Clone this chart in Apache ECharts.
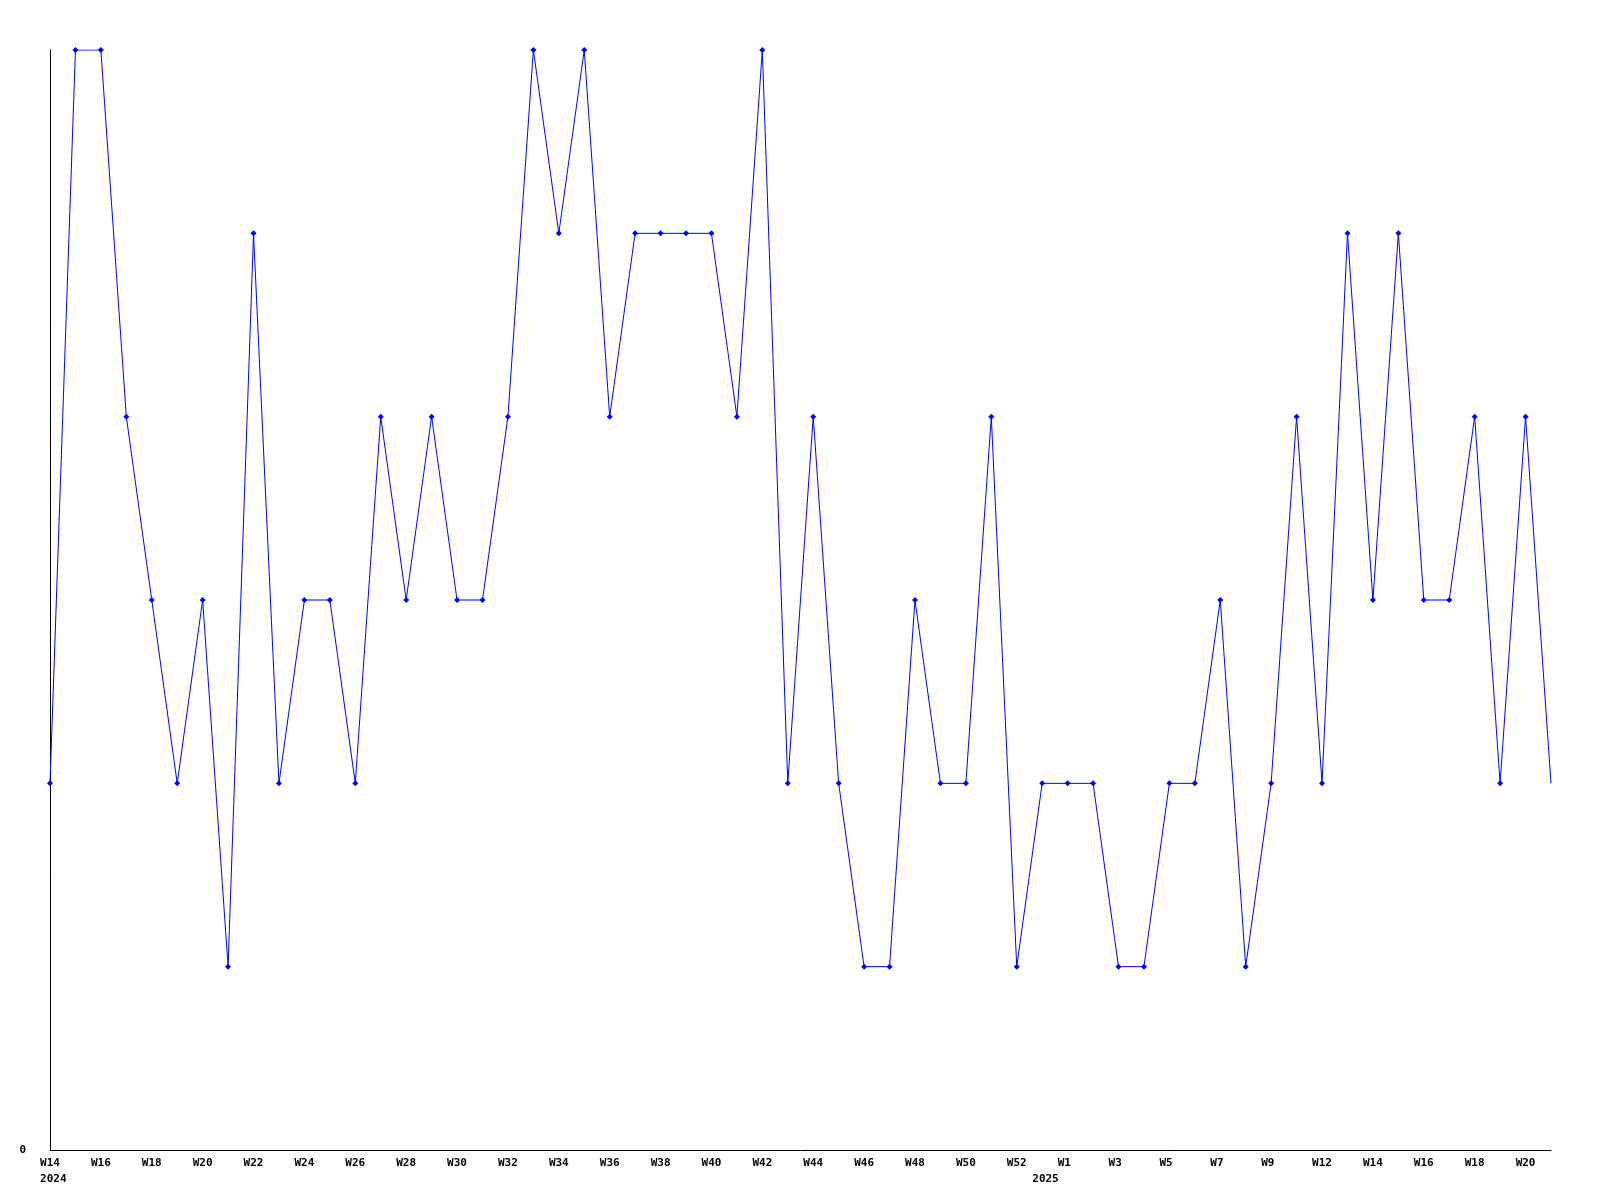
<!DOCTYPE html>
<html>
<head>
<meta charset="utf-8">
<script src="https://cdn.jsdelivr.net/npm/echarts@6/dist/echarts.min.js"></script>
<style>html,body{margin:0;padding:0;background:#fff}#c{width:1600px;height:1200px}</style>
</head>
<body>
<div id="c"></div>
<script>
const weeks = ['W14','W15','W16','W17','W18','W19','W20','W21','W22','W23','W24','W25','W26','W27','W28','W29','W30','W31','W32','W33','W34','W35','W36','W37','W38','W39','W40','W41','W42','W43','W44','W45','W46','W47','W48','W49','W50','W51','W52','W53',
  'W1','W2','W3','W4','W5','W6','W7','W8','W9','W10','W12','W13','W14','W15','W16','W17','W18','W19','W20','W21'];
const values = [2,6,6,4,3,2,3,1,5,2,3,3,2,4,3,4,3,3,4,6,5,6,4,5,5,5,5,4,6,2,4,2,1,1,3,2,2,4,1,2,
  2,2,1,1,2,2,3,1,2,4,2,5,3,5,3,3,4,2,4,2];
const yearStarts = [[0,'2024'],[39,'2025']];
const yTickLabels = ['0'];

const yearAt = {};
yearStarts.forEach(([i, y]) => { yearAt[i] = ' ' + y; });

const data = values.map((v, i) => i === values.length - 1 ? { value: v, symbol: 'none' } : v);

function pad3(s) { while (s.length < 3) s += ' '; return s; }

const chart = echarts.init(document.getElementById('c'));
chart.setOption({
  animation: false,
  backgroundColor: '#ffffff',
  grid: { left: 50, right: 49, top: 50, bottom: 50, containLabel: false },
  xAxis: {
    type: 'category',
    data: weeks,
    boundaryGap: false,
    axisLine: { show: true, lineStyle: { color: '#000', width: 1 } },
    axisTick: { show: false },
    splitLine: { show: false },
    axisLabel: {
      interval: 0,
      margin: 5,
      color: '#000',
      fontFamily: 'DejaVu Sans Mono',
      fontWeight: 'bold',
      fontSize: 11,
      lineHeight: 16,
      formatter: function (val, idx) {
        const w = idx % 2 === 0 ? pad3(val) : ' ';
        if (yearAt[idx] !== undefined) return w + '\n' + yearAt[idx];
        return idx % 2 === 0 ? pad3(val) : '';
      }
    }
  },
  yAxis: {
    type: 'value',
    min: 0,
    max: 6,
    interval: 1,
    axisLine: { show: true, lineStyle: { color: '#000', width: 1 } },
    axisTick: { show: false },
    splitLine: { show: false },
    axisLabel: {
      margin: 24,
      color: '#000',
      fontFamily: 'DejaVu Sans Mono',
      fontWeight: 'bold',
      fontSize: 11,
      formatter: function (v) { return v === 0 ? yTickLabels[0] : ''; }
    }
  },
  series: [{
    type: 'line',
    data: data,
    symbol: 'diamond',
    symbolSize: 6,
    showAllSymbol: true,
    lineStyle: { color: '#0000ff', width: 1 },
    itemStyle: { color: '#0000ff' },
    emphasis: { disabled: true }
  }]
});
</script>
</body>
</html>
